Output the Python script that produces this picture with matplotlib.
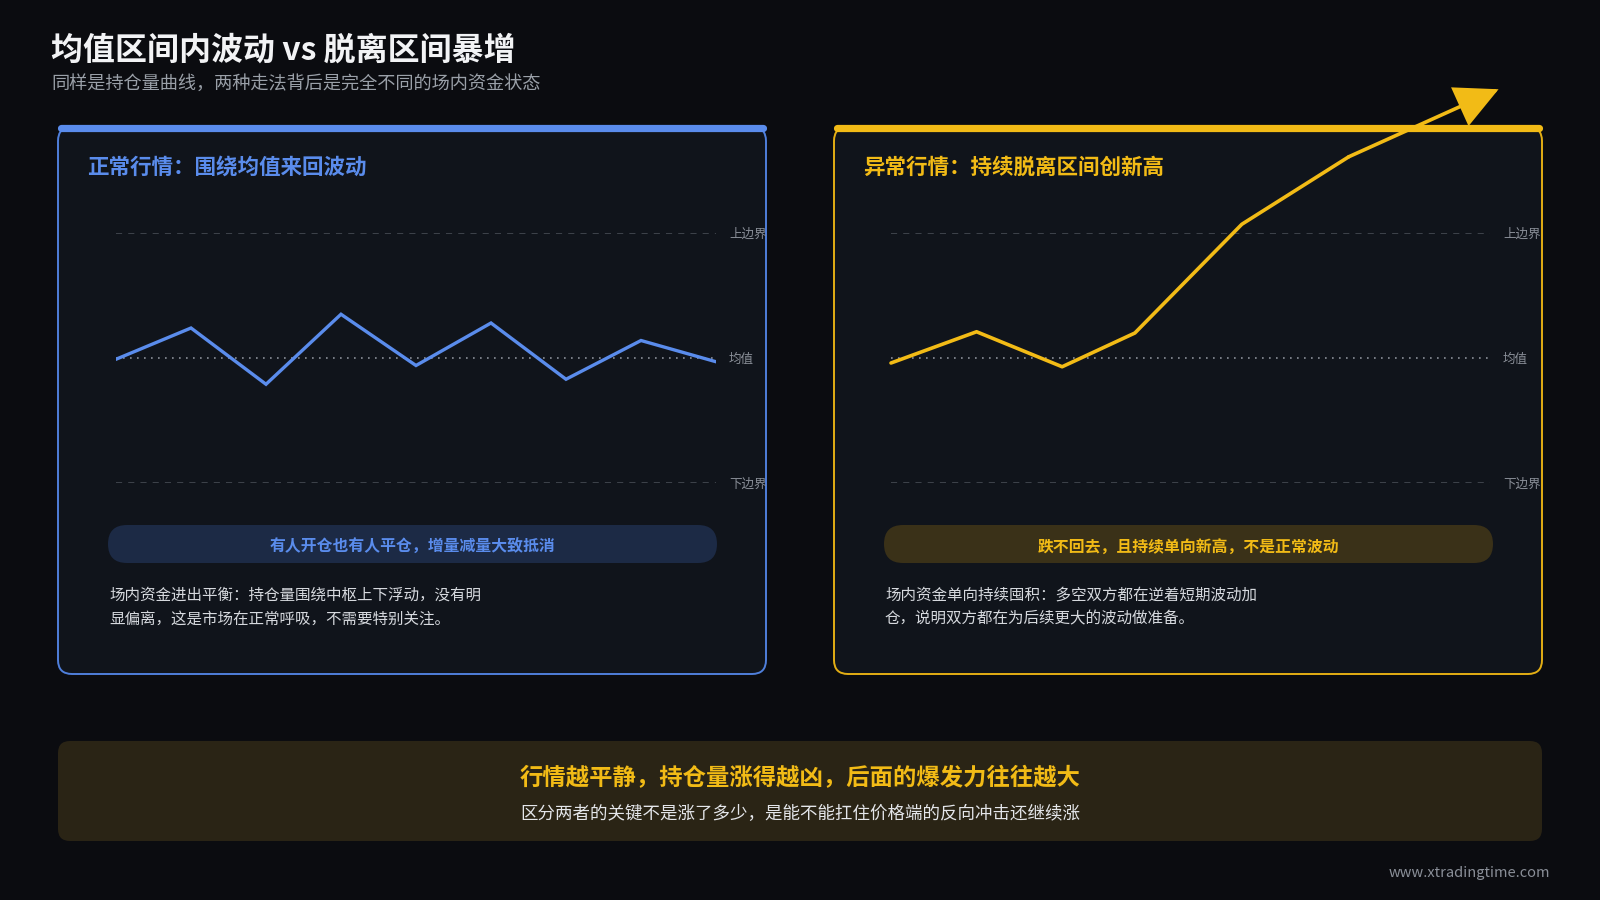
import matplotlib
matplotlib.use("Agg")
import matplotlib.pyplot as plt
from matplotlib.patches import FancyBboxPatch

plt.rcParams['font.family'] = ['Noto Sans CJK SC', 'DejaVu Sans']

# ---------------- data ----------------
title = "均值区间内波动 vs 脱离区间暴增"
subtitle = "同样是持仓量曲线，两种走法背后是完全不同的场内资金状态"

left_title = "正常行情：围绕均值来回波动"
right_title = "异常行情：持续脱离区间创新高"

level_values = [1.0, 0.0, -1.0]
level_labels = ["上边界", "均值", "下边界"]

normal_x = [0, 1, 2, 3, 4, 5, 6, 7, 8]
normal_y = [-0.01, 0.24, -0.21, 0.35, -0.06, 0.28, -0.17, 0.14, -0.03]

breakout_x = [0, 1, 2, 2.85, 4.1, 5.35]
breakout_y = [-0.04, 0.21, -0.07, 0.20, 1.07, 1.61]
breakout_tip = (7.1, 2.15)

left_pill = "有人开仓也有人平仓，增量减量大致抵消"
right_pill = "跌不回去，且持续单向新高，不是正常波动"

left_body = ["场内资金进出平衡：持仓量围绕中枢上下浮动，没有明",
             "显偏离，这是市场在正常呼吸，不需要特别关注。"]
right_body = ["场内资金单向持续囤积：多空双方都在逆着短期波动加",
              "仓，说明双方都在为后续更大的波动做准备。"]

bottom_head = "行情越平静，持仓量涨得越凶，后面的爆发力往往越大"
bottom_sub = "区分两者的关键不是涨了多少，是能不能扛住价格端的反向冲击还继续涨"
watermark = "www.xtradingtime.com"

# ---------------- style ----------------
BG = "#0b0c10"
PANEL = "#10141b"
BLUE = "#5a8cec"
BLUE_BORDER = "#4f7fdb"
YELLOW = "#f2bb16"
YELLOW_BORDER = "#e3ae14"
GRAY = "#8a8f98"
DASH = "#4a4f58"

W, H = 1600, 900
fig = plt.figure(figsize=(16, 9), dpi=100)
fig.patch.set_facecolor(BG)

bg = fig.add_axes([0, 0, 1, 1])
bg.set_xlim(0, W)
bg.set_ylim(H, 0)
bg.axis("off")
bg.set_facecolor(BG)

# titles
bg.text(51, 51, title, fontsize=23, fontweight="bold", color="#f2f3f5", va="center", ha="left")
bg.text(51, 84, subtitle, fontsize=13.1, color="#9aa0a8", va="center", ha="left")

panels = {}
for key, x0, border, accent, ttl, pill_txt, pill_fc, body in [
    ("L", 58, BLUE_BORDER, BLUE, left_title, left_pill, "#1c2a45", left_body),
    ("R", 834, YELLOW_BORDER, YELLOW, right_title, right_pill, "#3a3118", right_body),
]:
    w = 708
    y0, h = 127, 547
    p = FancyBboxPatch((x0, y0), w, h, boxstyle="round,pad=0,rounding_size=14",
                       fc=PANEL, ec=border, lw=1.4, zorder=1)
    bg.add_patch(p)
    panels[key] = p
    # top accent bar
    bg.plot([x0 + 3, x0 + w - 3], [127.5, 127.5], color=accent, lw=5.2,
            solid_capstyle="round", zorder=2)
    # panel title
    bg.text(x0 + 29, 167.5, ttl, fontsize=15.5, fontweight="bold", color=accent,
            va="center", ha="left", zorder=3)
    # pill
    px0 = x0 + 50
    pw = 609
    pill = FancyBboxPatch((px0, 525), pw, 38, boxstyle="round,pad=0,rounding_size=19",
                          fc=pill_fc, ec="none", zorder=2)
    bg.add_patch(pill)
    bg.text(px0 + pw / 2, 547, pill_txt, fontsize=11.4, fontweight="bold", color=accent,
            va="center", ha="center", zorder=3)
    # body
    for i, line in enumerate(body):
        bg.text(x0 + 51, 595.5 + 23.5 * i, line, fontsize=11.2, color="#d6d9de",
                va="center", ha="left", zorder=3)

# bottom box
box = FancyBboxPatch((58, 741), 1484, 100, boxstyle="round,pad=0,rounding_size=12",
                     fc="#2a2415", ec="none", zorder=1)
bg.add_patch(box)
bg.text(800, 778, bottom_head, fontsize=16.8, fontweight="bold", color=YELLOW,
        va="center", ha="center")
bg.text(800, 814, bottom_sub, fontsize=12.6, color="#e4e6ea", va="center", ha="center")
bg.text(1550, 873, watermark, fontsize=10.5, color=GRAY, va="center", ha="right")


def chart_axes(px_left, px_right, xmax):
    top, bottom = 233, 483
    ax = fig.add_axes([px_left / W, 1 - bottom / H, (px_right - px_left) / W, (bottom - top) / H])
    ax.set_xlim(0, xmax)
    ax.set_ylim(-1, 1)
    ax.axis("off")
    ax.patch.set_alpha(0)
    return ax


def draw_levels(ax, xmax, clip_patch):
    for v, lab in zip(level_values, level_labels):
        if v == 0:
            ax.plot([0, xmax], [v, v], color=GRAY, lw=1.2, ls=(0, (1, 3.2)), zorder=2)
        else:
            ax.plot([0, xmax], [v, v], color=DASH, lw=1.1, ls=(0, (4, 4)), zorder=2)
        t = ax.annotate(lab, xy=(xmax, v), xytext=(13, -1), textcoords="offset pixels",
                        fontsize=9, color=GRAY, va="center", ha="left", annotation_clip=False)
        t.set_clip_path(clip_patch)


# left chart
axL = chart_axes(116, 716, 8)
draw_levels(axL, 8, panels["L"])
axL.plot(normal_x, normal_y, color=BLUE, lw=2.4, solid_joinstyle="miter", zorder=3)

# right chart
axR = chart_axes(891, 1490, 7)
draw_levels(axR, 7, panels["R"])
axR.plot(breakout_x, breakout_y, color=YELLOW, lw=2.6, solid_joinstyle="round",
         solid_capstyle="round", zorder=5, clip_on=False)
axR.annotate("", xy=breakout_tip, xytext=(breakout_x[-1], breakout_y[-1]),
             arrowprops=dict(arrowstyle="-|>,head_length=0.4,head_width=0.2",
                             mutation_scale=66, color=YELLOW, lw=2.6,
                             shrinkA=0, shrinkB=0, joinstyle="miter"),
             annotation_clip=False, zorder=6)

fig.savefig("out.png", dpi=100, facecolor=BG)
